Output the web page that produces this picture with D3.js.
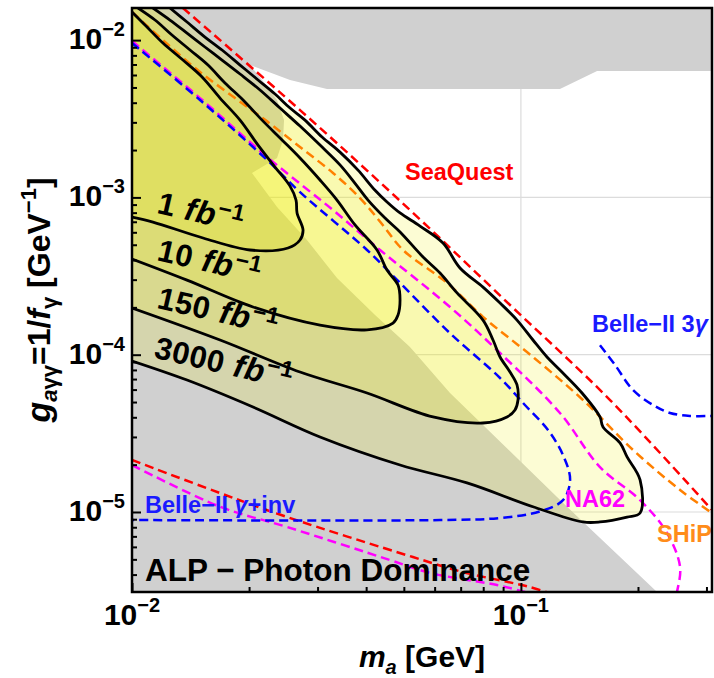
<!DOCTYPE html>
<html><head><meta charset="utf-8">
<script src="https://cdn.jsdelivr.net/npm/d3@7"></script>
<style>
body{margin:0;background:#fff}
text{font-family:"Liberation Sans",Arial,sans-serif;font-weight:bold}
</style>
</head><body>
<svg id="c" width="714" height="678"></svg>
<script>
// ---------- data (m_a [GeV], g [GeV^-1]) ----------
const xDomain = [0.01, 0.31];
const yDomain = [3.1e-6, 0.016];
const xMajorTicks = [0.01, 0.1];
const xMinorTicks = [0.02,0.03,0.04,0.05,0.06,0.07,0.08,0.09,0.2,0.3];
const yMajorTicks = [1e-5, 1e-4, 1e-3, 1e-2];
const yMinorTicks = [4e-6,5e-6,6e-6,7e-6,8e-6,9e-6,2e-5,3e-5,4e-5,5e-5,6e-5,7e-5,8e-5,9e-5,
                     2e-4,3e-4,4e-4,5e-4,6e-4,7e-4,8e-4,9e-4,2e-3,3e-3,4e-3,5e-3,6e-3,7e-3,8e-3,9e-3];
const xTickExp = ["−2", "−1"];
const yTickExp = ["−5", "−4", "−3", "−2"];
const xGrid = [0.1];
const yGrid = [1e-5, 1e-4, 1e-3, 1e-2];

// existing bounds (grey)
const excluded = [[0.01,0.016],[0.31,0.016],[0.31,0.00636],[0.157,0.00636],[0.126,0.00489],[0.03172,0.00489],
  [0.02549,0.00558],[0.02011,0.00694],[0.0216,0.00558],[0.0236,0.00416],[0.0246,0.0031],[0.02445,0.00232],
  [0.0236,0.00178],[0.02035,0.00143],[0.0236,0.000869],[0.02818,0.000536],[0.03366,0.000307],[0.04216,0.000179],
  [0.05185,0.000112],[0.06572,0.0000571],[0.0799,0.0000357],[0.1314,0.0000108],[0.2239,0.0000031],[0.01,0.0000031]];

// projected sensitivity contours
const contour1 = [[0.01,0.0151],[0.01093,0.01211],[0.01201,0.00958],[0.01352,0.00747],[0.01514,0.00583],
  [0.01684,0.00428],[0.01896,0.0031],[0.02109,0.00215],[0.02332,0.00156],[0.02549,0.00118],[0.02641,0.000962],
  [0.02657,0.000796],[0.02753,0.00062],[0.02704,0.000536],[0.02519,0.000477],[0.02011,0.000463],[0.01523,0.000552],
  [0.01132,0.000697],[0.01,0.00075]];
const contour10 = [[0.01036,0.016],[0.01146,0.01342],[0.01267,0.01077],[0.0141,0.00865],[0.01568,0.00694],
  [0.01734,0.00534],[0.0193,0.00416],[0.0216,0.0031],[0.02431,0.00232],[0.02704,0.00178],[0.03044,0.00129],
  [0.03366,0.000962],[0.03745,0.000668],[0.04266,0.000463],[0.04526,0.000345],[0.04831,0.000277],[0.04889,0.000223],
  [0.04831,0.000179],[0.0469,0.000159],[0.04021,0.000144],[0.03044,0.000154],[0.02047,0.000201],[0.01385,0.000298],
  [0.01,0.000406]];
const contour150 = [[0.01132,0.016],[0.01252,0.01342],[0.01385,0.01109],[0.0154,0.00904],[0.01704,0.00747],
  [0.01896,0.00609],[0.02134,0.00482],[0.02402,0.0037],[0.02704,0.00284],[0.03044,0.00215],[0.03426,0.00161],
  [0.03745,0.00123],[0.04045,0.000962],[0.04473,0.00074],[0.04889,0.000603],[0.05602,0.000418],[0.06194,0.000331],
  [0.06851,0.000247],[0.0799,0.000166],[0.08478,0.000124],[0.08839,0.0000967],[0.09376,0.0000776],[0.09772,0.0000642],
  [0.09829,0.0000515],[0.09656,0.0000445],[0.0921,0.0000402],[0.0799,0.0000368],[0.05943,0.0000402],[0.04021,0.0000571],
  [0.02704,0.0000776],[0.01684,0.000124],[0.01,0.000198]];
const contour3000 = [[0.01252,0.016],[0.01385,0.01303],[0.0154,0.01046],[0.01704,0.00865],[0.01896,0.00694],
  [0.02109,0.00558],[0.02332,0.00454],[0.02549,0.0037],[0.02785,0.0031],[0.03081,0.00242],[0.03426,0.00194],
  [0.03812,0.00149],[0.04216,0.00111],[0.04526,0.000935],[0.04889,0.000796],[0.05503,0.000657],[0.06305,0.000513],
  [0.06972,0.000356],[0.0799,0.000269],[0.08839,0.000213],[0.09772,0.000166],[0.1074,0.000124],[0.1167,0.0000967],
  [0.126,0.0000799],[0.1436,0.0000571],[0.1597,0.0000402],[0.1626,0.0000347],[0.1798,0.0000275],[0.1875,0.0000224],
  [0.2025,0.000016],[0.2025,0.00000985],[0.1875,0.00000929],[0.1597,0.00000864],[0.1444,0.00000864],[0.1074,0.0000108],
  [0.07268,0.0000153],[0.04889,0.0000199],[0.03044,0.00003],[0.02047,0.0000465],[0.01385,0.000069],[0.01,0.0000912]];
const contourLabels = [
  {lum:"1",    m:0.01153, g:0.000800},
  {lum:"10",   m:0.01153, g:0.000400},
  {lum:"150",  m:0.01153, g:0.000199},
  {lum:"3000", m:0.01132, g:0.0000960}];

// other experiments (dashed)
const seaQuestUpper = [[0.01352,0.016],[0.02704,0.00359],[0.05185,0.000831],[0.09376,0.000207],[0.1695,0.0000515],[0.31,0.0000103]];
const seaQuestLower = [[0.01,0.0000214],[0.01684,0.0000132],[0.02504,0.00000929],[0.05277,0.00000517],[0.07098,0.00000415],[0.1055,0.00000333],[0.126,0.0000029]];
const shipLine = [[0.01,0.01509],[0.01216,0.00972],[0.01496,0.00627],[0.01841,0.00428],[0.02238,0.00301],[0.02704,0.00209],
  [0.03287,0.00143],[0.03857,0.000991],[0.04393,0.000677],[0.04977,0.000463],[0.06457,0.000286],[0.0799,0.000174],
  [0.1074,0.0000967],[0.1444,0.0000515],[0.1942,0.0000248],[0.2566,0.0000138],[0.31,0.00000985]];
const na62Upper = [[0.01,0.00987],[0.01496,0.00428],[0.02224,0.00181],[0.03287,0.000831],[0.03857,0.000594],[0.04343,0.000463],
  [0.06572,0.000201],[0.08839,0.0001025],[0.126,0.0000426],[0.1597,0.0000193],[0.2025,0.0000119],[0.2376,0.00000735],
  [0.2566,0.00000447],[0.252,0.0000031],[0.249,0.0000027]];
const na62Lower = [[0.01,0.0000199],[0.01684,0.0000108],[0.02504,0.00000803],[0.04607,0.00000495],[0.05838,0.0000041],[0.08683,0.00000343],[0.1024,0.0000031],[0.112,0.0000029]];
const belleInv = [[0.01,0.00958],[0.01496,0.00416],[0.02224,0.00173],[0.02704,0.00108],[0.04021,0.000463],[0.04889,0.000286],
  [0.06572,0.000137],[0.08839,0.0000711],[0.1024,0.0000479],[0.1174,0.0000332],[0.1283,0.000023],[0.1338,0.000016],
  [0.1283,0.0000119],[0.112,0.0000101],[0.08839,0.00000916],[0.06194,0.00000889],[0.01,0.00000889]];
const belle3g = [[0.1597,0.000115],[0.1746,0.000086],[0.1942,0.0000596],[0.2187,0.0000479],[0.2418,0.0000426],[0.2722,0.0000408],[0.31,0.0000408]];

const annotations = [
  {parts:[["SeaQuest",""]], m:0.05035, g:0.00129, color:"#ff0000"},
  {parts:[["Belle−II 3",""],["γ","italic"]], m:0.1524, g:0.000139, color:"#1a1aff"},
  {parts:[["NA62",""]], m:0.1298, g:0.0000108, color:"#ff00ff"},
  {parts:[["SHiP",""]], m:0.2239, g:0.00000644, color:"#ff8c1a"},
  {parts:[["Belle−II ",""],["γ","italic"],["+inv",""]], m:0.0108, g:0.00000985, color:"#1a1aff"}];
const title = {text:"ALP − Photon Dominance", m:0.0108, g:0.00000364};

// ---------- drawing ----------
const L=132, R=712, T=8, B=592;
const x = d3.scaleLog().domain(xDomain).range([L,R]);
const y = d3.scaleLog().domain(yDomain).range([B,T]);
const svg = d3.select("#c");
svg.append("defs").append("clipPath").attr("id","clip")
  .append("rect").attr("x",L).attr("y",T).attr("width",R-L).attr("height",B-T);
const plot = svg.append("g").attr("clip-path","url(#clip)");

// grid
plot.selectAll(".gx").data(xGrid).enter().append("line")
  .attr("x1",d=>x(d)).attr("x2",d=>x(d)).attr("y1",T).attr("y2",B)
  .attr("stroke","#dcdcdc").attr("stroke-width",1.2);
plot.selectAll(".gy").data(yGrid).enter().append("line")
  .attr("y1",d=>y(d)).attr("y2",d=>y(d)).attr("x1",L).attr("x2",R)
  .attr("stroke","#dcdcdc").attr("stroke-width",1.2);

const lin = d3.line().x(d=>x(d[0])).y(d=>y(d[1]));
const smooth = d3.line().x(d=>x(d[0])).y(d=>y(d[1])).curve(d3.curveCatmullRom.alpha(0.5));

// grey excluded
plot.append("path").attr("d", lin(excluded)+"Z").attr("fill","#d0d0d0");

// yellow contour fills
const contours = [contour3000, contour150, contour10, contour1];
const corner = [xDomain[0], yDomain[1]];
contours.forEach(c=>{
  plot.append("path")
    .attr("d", smooth(c) + "L" + (x(corner[0])-5) + "," + (y(corner[1])-5) + "Z")
    .attr("fill","#f0ec00").attr("fill-opacity",0.17).attr("stroke","none");
});

// dashed lines
const dashed = [
  [seaQuestUpper,"#ff0000"],[seaQuestLower,"#ff0000"],[shipLine,"#ff8000"],
  [na62Upper,"#ff00ff"],[na62Lower,"#ff00ff"],[belleInv,"#0000ff"],[belle3g,"#0000ff"]];
dashed.forEach(([d,c])=>{
  plot.append("path").attr("d",smooth(d)).attr("fill","none").attr("stroke",c)
    .attr("stroke-width",2.5).attr("stroke-dasharray","9,5");
});

// contour lines
contours.forEach(c=>{
  plot.append("path").attr("d",smooth(c)).attr("fill","none").attr("stroke","#000")
    .attr("stroke-width",2.8).attr("stroke-linejoin","round");
});

// contour labels
contourLabels.forEach(l=>{
  const px=x(l.m), py=y(l.g);
  const t=plot.append("text").attr("x",px).attr("y",py).attr("font-size",31)
    .attr("letter-spacing",0.5)
    .attr("transform",`rotate(13,${px},${py})`).attr("fill","#000");
  t.append("tspan").text(l.lum);
  t.append("tspan").attr("dx",10).attr("font-style","italic").attr("font-size",32).text("fb");
  t.append("tspan").attr("font-size",23).attr("dx",1).attr("dy",-11).text("−1");
});

// experiment labels
annotations.forEach(a=>{
  const t=plot.append("text").attr("x",x(a.m)).attr("y",y(a.g)).attr("font-size",23.5).attr("fill",a.color);
  a.parts.forEach(p=>{const s=t.append("tspan").text(p[0]); if(p[1]) s.attr("font-style",p[1]);});
});
plot.append("text").attr("x",x(title.m)).attr("y",y(title.g)).attr("font-size",31.5).attr("fill","#000").text(title.text);

// ticks (inside)
const tickG = svg.append("g");
function drawAxis(gen, vals, size, tr){
  const a = tickG.append("g").attr("transform",tr)
    .call(gen.tickValues(vals).tickSize(size).tickFormat(""));
  a.select(".domain").remove();
  a.selectAll("line").attr("stroke","#000").attr("stroke-width",2);
}
drawAxis(d3.axisBottom(x), xMajorTicks, -9, `translate(0,${B})`);
drawAxis(d3.axisBottom(x), xMinorTicks, -5, `translate(0,${B})`);
drawAxis(d3.axisLeft(y), yMajorTicks, -9, `translate(${L},0)`);
drawAxis(d3.axisLeft(y), yMinorTicks, -5, `translate(${L},0)`);

// frame
svg.append("rect").attr("x",L).attr("y",T).attr("width",R-L).attr("height",B-T)
  .attr("fill","none").attr("stroke","#000").attr("stroke-width",2.5);

// tick labels
xMajorTicks.forEach((v,i)=>{
  const t=svg.append("text").attr("x",x(v)).attr("y",625).attr("text-anchor","middle").attr("font-size",30);
  t.append("tspan").text("10");
  t.append("tspan").attr("font-size",20).attr("dy",-13).text(xTickExp[i]);
});
yMajorTicks.forEach((v,i)=>{
  const t=svg.append("text").attr("x",125).attr("y",y(v)+9).attr("text-anchor","end").attr("font-size",30);
  t.append("tspan").text("10");
  t.append("tspan").attr("font-size",20).attr("dy",-13).text(yTickExp[i]);
});

// axis titles
const xt=svg.append("text").attr("x",(L+R)/2).attr("y",667).attr("text-anchor","middle").attr("font-size",30);
xt.append("tspan").attr("font-style","italic").text("m");
xt.append("tspan").attr("font-style","italic").attr("font-size",20).attr("dy",7).text("a");
xt.append("tspan").attr("dy",-7).text(" [GeV]");

const yt=svg.append("text").attr("transform",`translate(50,${(T+B)/2}) rotate(-90)`).attr("text-anchor","middle").attr("font-size",32);
yt.append("tspan").attr("font-style","italic").attr("font-size",34).text("g");
yt.append("tspan").attr("font-style","italic").attr("font-size",22).attr("dy",7).text("a");
yt.append("tspan").attr("font-size",22).text("γγ");
yt.append("tspan").attr("dy",-7).text("=1/");
yt.append("tspan").attr("font-style","italic").text("f");
yt.append("tspan").attr("font-size",22).attr("dy",7).text("γ");
yt.append("tspan").attr("dy",-7).text(" [GeV");
yt.append("tspan").attr("font-size",22).attr("dy",-14).text("−1");
yt.append("tspan").attr("dy",14).text("]");
</script>
</body></html>
